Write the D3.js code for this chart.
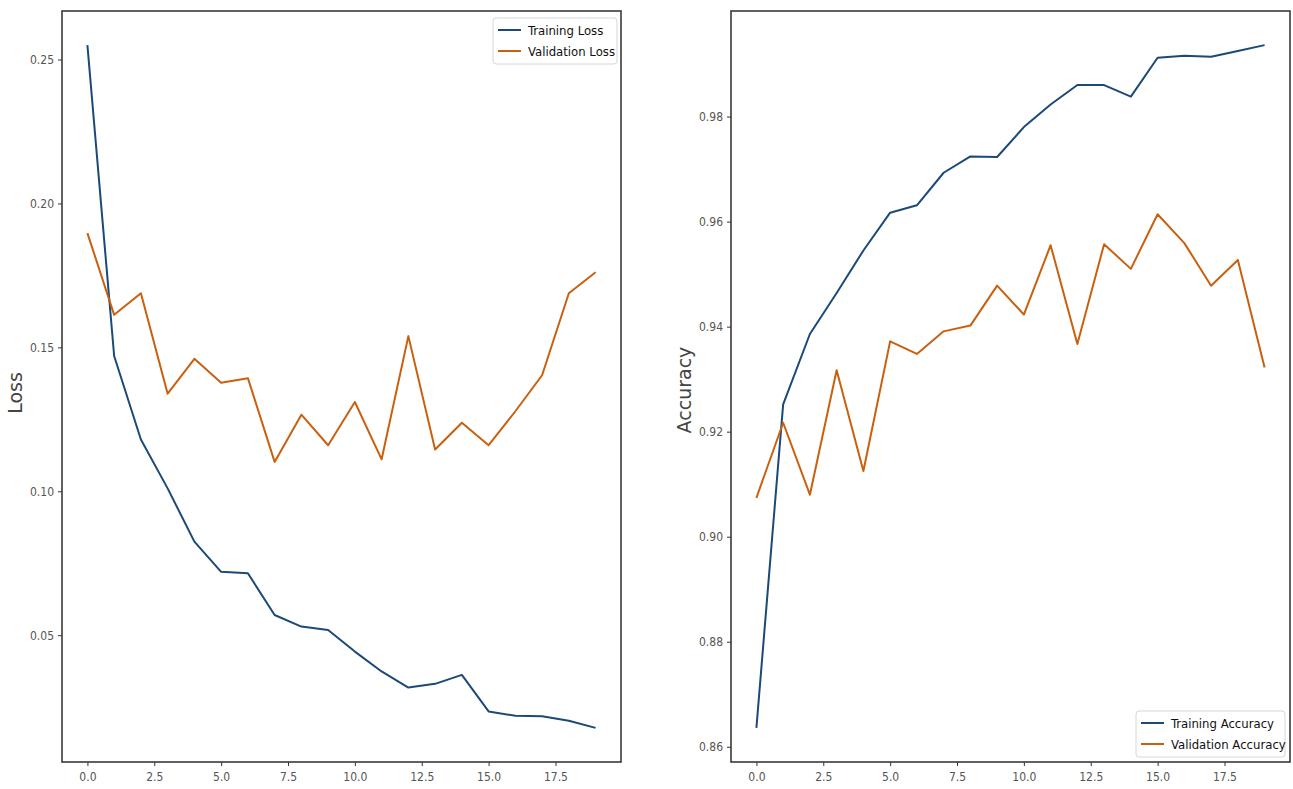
<!DOCTYPE html>
<html>
<head>
<meta charset="utf-8">
<script src="https://cdn.jsdelivr.net/npm/d3@7"></script>
<style>
  body { margin: 0; background: #fff; }
  text { font-family: "DejaVu Sans Condensed", "Liberation Sans Narrow", "DejaVu Sans", sans-serif; font-stretch: condensed; }
</style>
</head>
<body>
<div id="chart"></div>
<script>
// epochs and per-epoch history
var epochs = d3.range(0, 20);

var trainLoss = [0.255, 0.147, 0.118, 0.101, 0.0825, 0.072, 0.0715, 0.057, 0.053, 0.0518,
                 0.0443, 0.0374, 0.0318, 0.0331, 0.0362, 0.0235, 0.022, 0.0218, 0.0203, 0.0178];
var valLoss = [0.1897, 0.1613, 0.1688, 0.1339, 0.146, 0.1377, 0.1393, 0.1102, 0.1266, 0.116,
               0.131, 0.1111, 0.1539, 0.1145, 0.1238, 0.116, 0.1278, 0.1403, 0.1688, 0.1761];

var trainAcc = [0.8636, 0.9252, 0.9386, 0.9464, 0.9545, 0.9617, 0.9631, 0.9693, 0.9724, 0.9723,
                0.978, 0.9823, 0.986, 0.986, 0.9838, 0.9912, 0.9916, 0.9914, 0.9925, 0.9936];
var valAcc = [0.9074, 0.9217, 0.908, 0.9317, 0.9125, 0.9372, 0.9348, 0.9391, 0.9402, 0.9478,
              0.9423, 0.9555, 0.9367, 0.9557, 0.951, 0.9614, 0.9559, 0.9478, 0.9527, 0.9322];

var xTicks = [0, 2.5, 5, 7.5, 10, 12.5, 15, 17.5];
var lossTicks = [0.05, 0.10, 0.15, 0.20, 0.25];
var accTicks = [0.86, 0.88, 0.90, 0.92, 0.94, 0.96, 0.98];

var blue = "#1b4a78", orange = "#c9600f";

var svg = d3.select("#chart")
  .append("svg")
    .attr("width", 1293)
    .attr("height", 789);

// matplotlib-like 5% padding around the data
function padded(vals) {
  var ext = d3.extent(vals), pad = (ext[1] - ext[0]) * 0.05;
  return [ext[0] - pad, ext[1] + pad];
}

function panel(opts) {
  var width = 559, height = 751;
  var g = svg.append("g")
    .attr("transform", "translate(" + opts.left + ",11)");

  var x = d3.scaleLinear()
    .domain([-0.95, 19.95])
    .range([0, width]);
  var y = d3.scaleLinear()
    .domain(padded(opts.series[0].values.concat(opts.series[1].values)))
    .range([height, 0]);

  // X axis
  var xa = g.append("g")
    .attr("transform", "translate(0," + height + ")")
    .call(d3.axisBottom(x).tickValues(xTicks).tickSize(4).tickPadding(6)
      .tickFormat(d3.format(".1f")));
  // Y axis
  var ya = g.append("g")
    .call(d3.axisLeft(y).tickValues(opts.ticks).tickSize(4).tickPadding(4)
      .tickFormat(d3.format(".2f")));

  [xa, ya].forEach(function(a) {
    a.select(".domain").remove();
    a.selectAll("line").attr("stroke", "#333").attr("stroke-width", 1);
    a.selectAll("text").attr("font-size", "12px").attr("fill", "#555");
  });

  // lines
  opts.series.forEach(function(s) {
    g.append("path")
      .datum(s.values)
      .attr("fill", "none")
      .attr("stroke", s.color)
      .attr("stroke-width", 2)
      .attr("stroke-linejoin", "round")
      .attr("d", d3.line()
        .x(function(d, i) { return x(epochs[i]); })
        .y(function(d) { return y(d); }));
  });

  // frame
  g.append("rect")
    .attr("width", width)
    .attr("height", height)
    .attr("fill", "none")
    .attr("stroke", "#3a3a3a")
    .attr("stroke-width", 1.6);

  // Y axis label
  g.append("text")
    .attr("text-anchor", "middle")
    .attr("transform", "rotate(-90)")
    .attr("x", -opts.labelY)
    .attr("y", opts.labelX)
    .attr("font-size", "19px")
    .attr("fill", "#444")
    .style("font-family", "DejaVu Sans, sans-serif")
    .style("font-stretch", "normal")
    .text(opts.label);

  // legend
  var lg = g.append("g")
    .attr("transform", "translate(" + opts.legend[0] + "," + opts.legend[1] + ")");
  lg.append("rect")
    .attr("width", opts.legendW)
    .attr("height", 46)
    .attr("rx", 3)
    .attr("fill", "#fff")
    .attr("stroke", "#d6d6d6");
  opts.series.forEach(function(s, i) {
    var yy = 12 + i * 21;
    lg.append("line")
      .attr("x1", 5).attr("x2", 28)
      .attr("y1", yy).attr("y2", yy)
      .attr("stroke", s.color)
      .attr("stroke-width", 2);
    lg.append("text")
      .attr("x", 35)
      .attr("y", yy)
      .attr("dy", "0.35em")
      .attr("font-size", "13px")
      .attr("fill", "#111")
      .text(s.name);
  });
}

panel({
  left: 62,
  series: [
    {name: "Training Loss", values: trainLoss, color: blue},
    {name: "Validation Loss", values: valLoss, color: orange}
  ],
  ticks: lossTicks,
  label: "Loss",
  labelX: -40,
  labelY: 382,
  legend: [431, 7],
  legendW: 124
});

panel({
  left: 731,
  series: [
    {name: "Training Accuracy", values: trainAcc, color: blue},
    {name: "Validation Accuracy", values: valAcc, color: orange}
  ],
  ticks: accTicks,
  label: "Accuracy",
  labelX: -40,
  labelY: 379,
  legend: [405, 700],
  legendW: 149
});
</script>
</body>
</html>
